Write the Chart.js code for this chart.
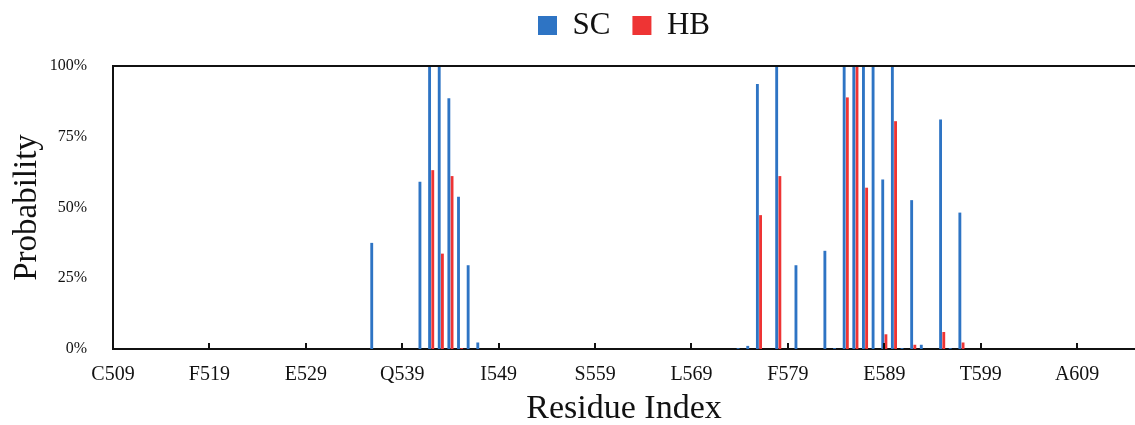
<!DOCTYPE html>
<html>
<head>
<meta charset="utf-8">
<script src="https://cdn.jsdelivr.net/npm/chart.js@4.4.0/dist/chart.umd.min.js"></script>
<style>
  html, body { margin: 0; padding: 0; background: #fff; }
  #wrap { width: 1135px; height: 425px; }
</style>
</head>
<body>
<div id="wrap"><canvas id="myChart" width="1135" height="425"></canvas></div>
<script>
// residue range shown on the x axis
const firstResidue = 509;
const lastResidue = 615;

// labelled ticks, one every 10 residues
const tickNames = ['C509', 'F519', 'E529', 'Q539', 'I549', 'S559', 'L569', 'F579', 'E589', 'T599', 'A609'];

// SC probability (%) per residue
const scResidues = [536, 541, 542, 543, 544, 545, 546, 547, 574, 575, 576, 578, 580, 583, 584, 585, 586, 587, 588, 589, 590, 591, 592, 593, 595, 596, 597];
const scValues   = [37.5, 59.1, 100, 100, 88.6, 53.8, 29.6, 2.3, 0.3, 1.1, 93.6, 100, 29.6, 34.7, 0.3, 100, 100, 100, 100, 59.9, 100, 0.3, 52.6, 1.5, 81.1, 0.3, 48.2];

// HB probability (%) per residue
const hbResidues = [542, 543, 544, 545, 576, 578, 585, 586, 587, 589, 590, 592, 595, 597];
const hbValues   = [63.2, 33.7, 61.1, 0.3, 47.3, 61.1, 88.9, 100, 57.0, 5.2, 80.5, 1.5, 6.0, 2.3];

const yTicks = [0, 25, 50, 75, 100];

const residues = [];
for (let r = firstResidue; r <= lastResidue; r++) residues.push(String(r));

function toPoints(res, vals) {
    return res.map((r, i) => ({ x: String(r), y: vals[i] }));
}

function tickName(index) {
    const r = String(firstResidue + index);
    return tickNames.find(n => n.slice(1) === r) || null;
}

const serif = "'Liberation Serif', 'DejaVu Serif', serif";

// top frame line, short inward x tick marks, legend nudged up
const frameAndTicks = {
    id: 'frameAndTicks',
    afterLayout(chart) {
        chart.legend.top -= 15;
        chart.legend.bottom -= 15;
    },
    afterDraw(chart) {
        const { ctx, chartArea, scales } = chart;
        const x = scales.x;
        ctx.save();
        ctx.strokeStyle = '#111';
        ctx.lineWidth = 2;
        ctx.beginPath();
        ctx.moveTo(chartArea.left - 1, chartArea.top);
        ctx.lineTo(chartArea.right, chartArea.top);
        ctx.stroke();
        ctx.beginPath();
        tickNames.forEach(n => {
            const px = Math.round(x.getPixelForValue(residues.indexOf(n.slice(1))));
            ctx.moveTo(px, chartArea.bottom);
            ctx.lineTo(px, chartArea.bottom - 6);
        });
        ctx.stroke();
        ctx.restore();
    }
};

new Chart(document.getElementById('myChart').getContext('2d'), {
    type: 'bar',
    data: {
        labels: residues,
        datasets: [
            {
                label: 'SC',
                backgroundColor: '#2e74c4',
                data: toPoints(scResidues, scValues)
            },
            {
                label: 'HB',
                backgroundColor: '#ee3434',
                data: toPoints(hbResidues, hbValues)
            }
        ]
    },
    options: {
        responsive: false,
        animation: false,
        layout: { padding: { left: 8, right: 0, top: 3, bottom: 0 } },
        datasets: {
            bar: { categoryPercentage: 0.66, barPercentage: 0.9, grouped: true }
        },
        plugins: {
            tooltip: { enabled: false },
            legend: {
                position: 'top',
                fullSize: false,
                labels: {
                    boxWidth: 19,
                    boxHeight: 19,
                    padding: 22,
                    color: '#111',
                    font: { family: serif, size: 31 }
                }
            }
        },
        scales: {
            x: {
                offset: false,
                afterFit: axis => { axis.height = 76; },
                grid: { display: false, drawTicks: false },
                border: { display: true, color: '#111', width: 2 },
                ticks: {
                    autoSkip: false,
                    maxRotation: 0,
                    padding: 14,
                    color: '#111',
                    font: { family: serif, size: 20 },
                    callback: (v, i) => tickName(i)
                },
                title: {
                    display: true,
                    text: 'Residue Index',
                    color: '#111',
                    padding: 0,
                    font: { family: serif, size: 34, lineHeight: 0.95 }
                }
            },
            y: {
                min: 0,
                max: 100,
                afterBuildTicks: axis => { axis.ticks = yTicks.map(v => ({ value: v })); },
                afterFit: axis => { axis.width = 105; },
                grid: { display: false, drawTicks: false },
                border: { display: true, color: '#111', width: 2 },
                ticks: {
                    padding: 26,
                    color: '#111',
                    font: { family: serif, size: 16 },
                    callback: v => v + '%'
                },
                title: {
                    display: true,
                    text: 'Probability',
                    color: '#111',
                    padding: 0,
                    font: { family: serif, size: 33 }
                }
            }
        }
    },
    plugins: [frameAndTicks]
});
</script>
</body>
</html>
